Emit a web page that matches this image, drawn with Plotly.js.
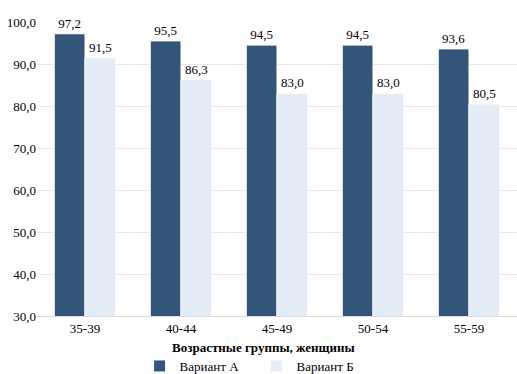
<!DOCTYPE html>
<html><head><meta charset="utf-8">
<script src="https://cdn.plot.ly/plotly-3.0.1.min.js"></script>
<style>html,body{margin:0;padding:0;background:#fff}#chart{width:517px;height:374px}</style>
</head><body><div id="chart"></div>
<script>
const categories = ["35-39","40-44","45-49","50-54","55-59"];
const variantA = [97.2,95.5,94.5,94.5,93.6];
const variantB = [91.5,86.3,83.0,83.0,80.5];
const seriesNames = ["Вариант А","Вариант Б"];
const xTitle = "Возрастные группы, женщины";

const font = {family:"Liberation Serif", size:13, color:"#000"};
const traces = [
  {type:"bar", name:seriesNames[0], x:categories, y:variantA, marker:{color:"#34557a", line:{color:"#fff", width:1}},
   texttemplate:"%{y:.1f}", textposition:"outside", textfont:font, cliponaxis:false},
  {type:"bar", name:seriesNames[1], x:categories, y:variantB, marker:{color:"#e4ecf7", line:{color:"#fff", width:1}},
   texttemplate:"%{y:.1f}", textposition:"outside", textfont:font, cliponaxis:false}
];
const layout = {
  width:517, height:374, separators:", ",
  margin:{l:37, r:0, t:22, b:58},
  paper_bgcolor:"#fff", plot_bgcolor:"#fff",
  font:font, barmode:"group", bargap:0.36, bargroupgap:0,
  xaxis:{showline:true, linecolor:"#d9d9d9", linewidth:1,
         ticks:"", tickfont:font, fixedrange:true, automargin:false},
  yaxis:{range:[30,100], dtick:10, tickformat:".1f", showgrid:true, gridcolor:"#e8e8e8", gridwidth:1,
         zeroline:false, ticks:"", tickfont:font, fixedrange:true, automargin:false},
  annotations:[{text:"<b>"+xTitle+"</b>", xref:"paper", yref:"paper", x:(263-37)/480, y:(316-347)/294,
                xanchor:"center", yanchor:"middle", showarrow:false, font:font}],
  showlegend:true,
  legend:{orientation:"h", xref:"container", yref:"container", x:0.27, xanchor:"left", y:0.0214, yanchor:"middle",
          font:font, entrywidth:72, itemwidth:30, traceorder:"normal", tracegroupgap:0}
};
Plotly.newPlot("chart", traces, layout, {displayModeBar:false, staticPlot:true});
</script></body></html>
